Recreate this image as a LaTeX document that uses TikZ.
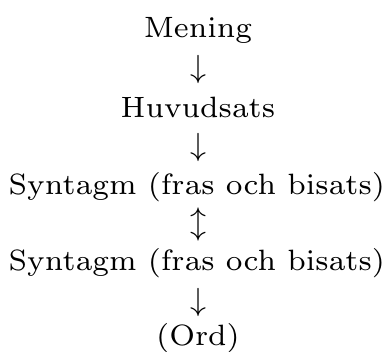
\documentclass[tikz,border=0pt]{standalone}
\font\txtfont=cmr7 at 29.4pt
\font\arrfont=cmsy10 at 32pt
\begin{document}
\begin{tikzpicture}[x=1pt,y=-1pt,
  lbl/.style={anchor=base,inner sep=0pt,font=\txtfont},
  arr/.style={anchor=center,inner sep=0pt,font=\arrfont}]
\useasboundingbox (0,0) rectangle (387,352);
\node[lbl] (m) at (198,38) {Mening};
\node[arr] (a1) at (198,70) {\char"23};
\node[lbl] (h) at (198,118) {Huvudsats};
\node[arr] (a2) at (198,148) {\char"23};
\node[lbl] (s1) at (197,195) {Syntagm (fras och bisats)};
\node[arr] (a3) at (198,224) {\char"6C};
\node[lbl] (s2) at (197,270) {Syntagm (fras och bisats)};
\node[arr] (a4) at (198,302) {\char"23};
\node[lbl] (o) at (198,345) {(Ord)};
\end{tikzpicture}
\end{document}
